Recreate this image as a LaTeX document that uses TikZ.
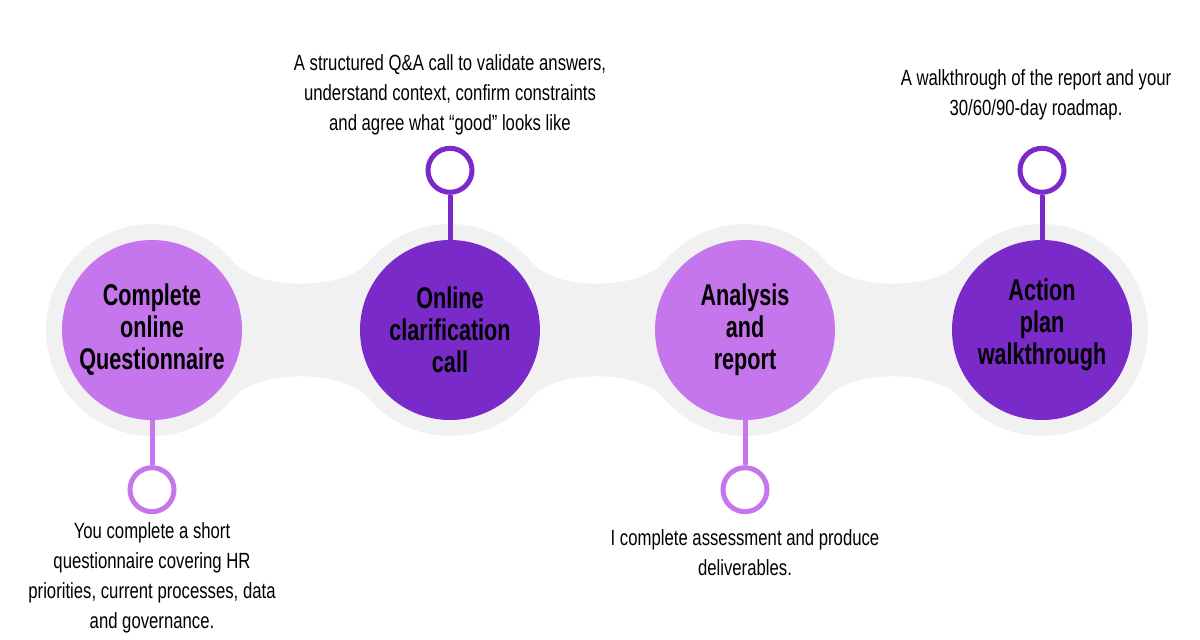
\documentclass[tikz,border=0pt]{standalone}
\usepackage{fontspec}
\setmainfont{Liberation Sans}[FakeStretch=0.76]
\newfontfamily\headfont{Liberation Sans}[FakeStretch=0.72]
\usepackage{tikz}
\usetikzlibrary{positioning}

\definecolor{lightpurple}{HTML}{C576EC}
\definecolor{darkpurple}{HTML}{7A2AC9}
\definecolor{bandgray}{HTML}{F1F1F1}

\tikzset{
  stage/.style={circle, minimum size=180pt, inner sep=0pt, align=center,
    font=\headfont\bfseries\fontsize{30}{32}\selectfont},
  ring/.style={circle, draw=#1, line width=5pt, minimum size=44pt, inner sep=0pt, fill=white},
  stem/.style={line width=5pt},
  note/.style={align=center, inner sep=0pt, font=\fontsize{22}{30}\selectfont},
}

\begin{document}
\begin{tikzpicture}[x=1pt, y=1pt]

\useasboundingbox (0,0) rectangle (1200,640);

% centres of the four stages
\coordinate (p1) at (152,310);
\coordinate (p2) at (450,310);
\coordinate (p3) at (745,310);
\coordinate (p4) at (1042,310);

% gray band
\foreach \p in {p1,p2,p3,p4}
  \fill[bandgray] (\p) circle (106);

\foreach \a/\b in {p1/p2, p2/p3, p3/p4}
  \fill[bandgray] ([shift={(40:106)}]\a) .. controls +(-50:38) and +(230:38) .. ([shift={(140:106)}]\b)
    -- ([shift={(220:106)}]\b) .. controls +(130:38) and +(50:38) .. ([shift={(-40:106)}]\a) -- cycle;

%1.
\node[stage, fill=lightpurple] (c1) at (p1) {Complete\\online\\Questionnaire};

%2.
\node[stage, fill=darkpurple] (c2) at (p2) {Online\\clarification\\call};

%3.
\node[stage, fill=lightpurple] (c3) at (p3) {Analysis\\and\\report};

%4.
\node[stage, fill=darkpurple, text depth=16pt] (c4) at (p4) {Action\\plan\\walkthrough};

% rings
\node[ring=lightpurple, below=45pt of c1] (r1) {};
\node[ring=darkpurple, above=45pt of c2] (r2) {};
\node[ring=lightpurple, below=45pt of c3] (r3) {};
\node[ring=darkpurple, above=45pt of c4] (r4) {};

% stems
\draw[stem, lightpurple] (c1.south) -- (r1.north);
\draw[stem, darkpurple] (c2.north) -- (r2.south);
\draw[stem, lightpurple] (c3.south) -- (r3.north);
\draw[stem, darkpurple] (c4.north) -- (r4.south);

% notes
\node[note, below=8pt of r1] (t1) {You complete a short\\questionnaire covering HR\\priorities, current processes, data\\and governance.};
\node[note, above=11pt of r2] (t2) {A structured Q\&A call to validate answers,\\understand context, confirm constraints\\and agree what “good” looks like};
\node[note, below=15pt of r3] (t3) {I complete assessment and produce\\deliverables.};
\node[note, above=26pt of r4, xshift=-6pt] (t4) {A walkthrough of the report and your\\30/60/90-day roadmap.};

\end{tikzpicture}
\end{document}
